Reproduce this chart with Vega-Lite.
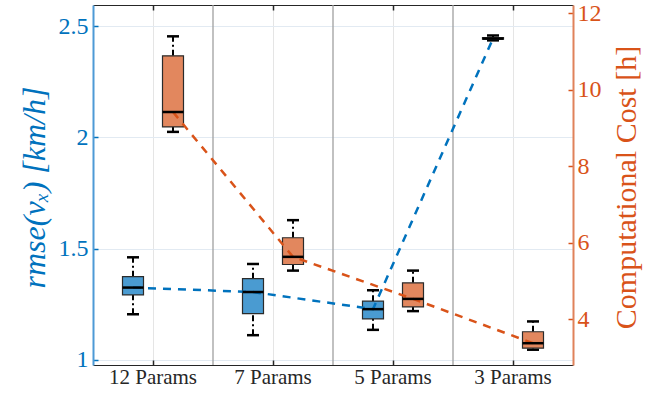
{
  "$schema": "https://vega.github.io/schema/vega-lite/v6.json",
  "width": 480,
  "height": 360,
  "autosize": "none",
  "padding": {"left": 93, "top": 5, "right": 94, "bottom": 31},
  "background": "white",
  "config": {
    "view": {"stroke": null},
    "font": "Liberation Serif, Times New Roman, serif",
    "axis": {"labelFont": "Liberation Serif, Times New Roman, serif", "titleFont": "Liberation Serif, Times New Roman, serif", "titleFontWeight": "normal"}
  },
  "datasets": {
    "boxes": [
      {"cat": "12 Params", "series": "rmse", "lower": 1.205, "q1": 1.292, "median": 1.325, "q3": 1.374, "upper": 1.461},
      {"cat": "7 Params", "series": "rmse", "lower": 1.111, "q1": 1.208, "median": 1.305, "q3": 1.365, "upper": 1.431},
      {"cat": "5 Params", "series": "rmse", "lower": 1.135, "q1": 1.184, "median": 1.228, "q3": 1.264, "upper": 1.313},
      {"cat": "3 Params", "series": "rmse", "lower": 2.436, "q1": 2.441, "median": 2.444, "q3": 2.449, "upper": 2.458},
      {"cat": "12 Params", "series": "cost", "lower": 8.90, "q1": 9.03, "median": 9.42, "q3": 10.89, "upper": 11.40},
      {"cat": "7 Params", "series": "cost", "lower": 5.27, "q1": 5.43, "median": 5.63, "q3": 6.13, "upper": 6.59},
      {"cat": "5 Params", "series": "cost", "lower": 4.21, "q1": 4.32, "median": 4.53, "q3": 4.95, "upper": 5.27},
      {"cat": "3 Params", "series": "cost", "lower": 3.20, "q1": 3.24, "median": 3.37, "q3": 3.67, "upper": 3.94}
    ],
    "seps": [{"cat": "7 Params"}, {"cat": "5 Params"}, {"cat": "3 Params"}]
  },
  "data": {"name": "boxes"},
  "resolve": {"scale": {"y": "independent"}, "axis": {"y": "independent", "x": "independent"}},
  "layer": [
    {
      "data": {"name": "seps"},
      "mark": {"type": "rule", "color": "#a0a0a0", "strokeWidth": 1.3},
      "encoding": {
        "x": {"field": "cat", "type": "nominal", "bandPosition": 0,
              "scale": {"domain": ["12 Params", "7 Params", "5 Params", "3 Params"], "paddingInner": 0, "paddingOuter": 0},
              "axis": null}
      }
    },
    {
      "transform": [{"filter": "datum.series === 'rmse'"}],
      "encoding": {
        "x": {"field": "cat", "type": "nominal",
              "scale": {"domain": ["12 Params", "7 Params", "5 Params", "3 Params"], "paddingInner": 0, "paddingOuter": 0},
              "axis": {"orient": "bottom", "title": null, "labelAngle": 0, "labelFontSize": 21, "labelColor": "#262626", "labelPadding": 6,
                       "domainColor": "#262626", "domainWidth": 1.2, "tickColor": "#262626", "tickSize": -5, "tickWidth": 1.5,
                       "grid": true, "gridColor": "#e5e5e5", "gridWidth": 1, "bandPosition": 0.5}},
        "xOffset": {"field": "series", "type": "nominal", "scale": {"type": "point", "domain": ["rmse", "cost"], "padding": 1.265}}
      },
      "layer": [
        {
          "mark": {"type": "rule", "color": "black", "strokeWidth": 2, "strokeDash": [6, 3, 2, 3]},
          "encoding": {
            "y": {"field": "lower", "type": "quantitative",
                  "scale": {"domain": [0.977, 2.595], "nice": false, "zero": false},
                  "axis": {"orient": "left", "values": [1, 1.5, 2, 2.5], "format": ".2~f",
                           "title": "rmse(vₓ) [km/h]", "titleFontStyle": "italic", "titleFontSize": 32,
                           "titleColor": "#0072BD", "titleAngle": -90, "titleX": -49, "titleY": 182, "titleAlign": "center", "titleBaseline": "alphabetic",
                           "labelFontSize": 24, "labelColor": "#0072BD", "labelPadding": 10,
                           "tickColor": "#0072BD", "tickSize": -5, "tickWidth": 1.5, "domainColor": "#4d9ad6", "domainWidth": 2,
                           "grid": true, "gridColor": "#e2eaf2"}},
            "y2": {"field": "q1"}
          }
        },
        {
          "mark": {"type": "rule", "color": "black", "strokeWidth": 2, "strokeDash": [6, 3, 2, 3]},
          "encoding": {
            "y": {"field": "q3", "type": "quantitative", "scale": {"domain": [0.977, 2.595], "nice": false, "zero": false},
                  "axis": {"orient": "left", "values": [1, 1.5, 2, 2.5], "format": ".2~f",
                           "title": "rmse(vₓ) [km/h]", "titleFontStyle": "italic", "titleFontSize": 32,
                           "titleColor": "#0072BD", "titleAngle": -90, "titleX": -49, "titleY": 182, "titleAlign": "center", "titleBaseline": "alphabetic",
                           "labelFontSize": 24, "labelColor": "#0072BD", "labelPadding": 10,
                           "tickColor": "#0072BD", "tickSize": -5, "tickWidth": 1.5, "domainColor": "#4d9ad6", "domainWidth": 2,
                           "grid": true, "gridColor": "#e2eaf2"}},
            "y2": {"field": "upper"}
          }
        },
        {
          "mark": {"type": "tick", "orient": "horizontal", "color": "black", "size": 12, "thickness": 2.5, "opacity": 1},
          "encoding": {"y": {"field": "lower", "type": "quantitative", "scale": {"domain": [0.977, 2.595], "nice": false, "zero": false},
                  "axis": {"orient": "left", "values": [1, 1.5, 2, 2.5], "format": ".2~f",
                           "title": "rmse(vₓ) [km/h]", "titleFontStyle": "italic", "titleFontSize": 32,
                           "titleColor": "#0072BD", "titleAngle": -90, "titleX": -49, "titleY": 182, "titleAlign": "center", "titleBaseline": "alphabetic",
                           "labelFontSize": 24, "labelColor": "#0072BD", "labelPadding": 10,
                           "tickColor": "#0072BD", "tickSize": -5, "tickWidth": 1.5, "domainColor": "#4d9ad6", "domainWidth": 2,
                           "grid": true, "gridColor": "#e2eaf2"}}}
        },
        {
          "mark": {"type": "tick", "orient": "horizontal", "color": "black", "size": 12, "thickness": 2.5, "opacity": 1},
          "encoding": {"y": {"field": "upper", "type": "quantitative", "scale": {"domain": [0.977, 2.595], "nice": false, "zero": false},
                  "axis": {"orient": "left", "values": [1, 1.5, 2, 2.5], "format": ".2~f",
                           "title": "rmse(vₓ) [km/h]", "titleFontStyle": "italic", "titleFontSize": 32,
                           "titleColor": "#0072BD", "titleAngle": -90, "titleX": -49, "titleY": 182, "titleAlign": "center", "titleBaseline": "alphabetic",
                           "labelFontSize": 24, "labelColor": "#0072BD", "labelPadding": 10,
                           "tickColor": "#0072BD", "tickSize": -5, "tickWidth": 1.5, "domainColor": "#4d9ad6", "domainWidth": 2,
                           "grid": true, "gridColor": "#e2eaf2"}}}
        },
        {
          "mark": {"type": "bar", "width": 21, "fill": "#4a9bd1", "stroke": "#2b2b2b", "strokeWidth": 1.2},
          "encoding": {
            "y": {"field": "q1", "type": "quantitative", "scale": {"domain": [0.977, 2.595], "nice": false, "zero": false},
                  "axis": {"orient": "left", "values": [1, 1.5, 2, 2.5], "format": ".2~f",
                           "title": "rmse(vₓ) [km/h]", "titleFontStyle": "italic", "titleFontSize": 32,
                           "titleColor": "#0072BD", "titleAngle": -90, "titleX": -49, "titleY": 182, "titleAlign": "center", "titleBaseline": "alphabetic",
                           "labelFontSize": 24, "labelColor": "#0072BD", "labelPadding": 10,
                           "tickColor": "#0072BD", "tickSize": -5, "tickWidth": 1.5, "domainColor": "#4d9ad6", "domainWidth": 2,
                           "grid": true, "gridColor": "#e2eaf2"}},
            "y2": {"field": "q3"}
          }
        },
        {
          "mark": {"type": "line", "color": "#0072BD", "strokeWidth": 2.5, "strokeDash": [8, 7]},
          "encoding": {"y": {"field": "median", "type": "quantitative", "scale": {"domain": [0.977, 2.595], "nice": false, "zero": false},
                  "axis": {"orient": "left", "values": [1, 1.5, 2, 2.5], "format": ".2~f",
                           "title": "rmse(vₓ) [km/h]", "titleFontStyle": "italic", "titleFontSize": 32,
                           "titleColor": "#0072BD", "titleAngle": -90, "titleX": -49, "titleY": 182, "titleAlign": "center", "titleBaseline": "alphabetic",
                           "labelFontSize": 24, "labelColor": "#0072BD", "labelPadding": 10,
                           "tickColor": "#0072BD", "tickSize": -5, "tickWidth": 1.5, "domainColor": "#4d9ad6", "domainWidth": 2,
                           "grid": true, "gridColor": "#e2eaf2"}}}
        },
        {
          "mark": {"type": "tick", "orient": "horizontal", "color": "black", "size": 21, "thickness": 2.5, "opacity": 1},
          "encoding": {"y": {"field": "median", "type": "quantitative", "scale": {"domain": [0.977, 2.595], "nice": false, "zero": false},
                  "axis": {"orient": "left", "values": [1, 1.5, 2, 2.5], "format": ".2~f",
                           "title": "rmse(vₓ) [km/h]", "titleFontStyle": "italic", "titleFontSize": 32,
                           "titleColor": "#0072BD", "titleAngle": -90, "titleX": -49, "titleY": 182, "titleAlign": "center", "titleBaseline": "alphabetic",
                           "labelFontSize": 24, "labelColor": "#0072BD", "labelPadding": 10,
                           "tickColor": "#0072BD", "tickSize": -5, "tickWidth": 1.5, "domainColor": "#4d9ad6", "domainWidth": 2,
                           "grid": true, "gridColor": "#e2eaf2"}}}
        }
      ]
    },
    {
      "transform": [{"filter": "datum.series === 'cost'"}],
      "encoding": {
        "x": {"field": "cat", "type": "nominal",
              "scale": {"domain": ["12 Params", "7 Params", "5 Params", "3 Params"], "paddingInner": 0, "paddingOuter": 0},
              "axis": {"orient": "top", "title": null, "labels": false, "domainColor": "#262626", "domainWidth": 1.2,
                       "tickColor": "#262626", "tickSize": -5, "tickWidth": 1.5, "grid": false, "bandPosition": 0.5}},
        "xOffset": {"field": "series", "type": "nominal", "scale": {"type": "point", "domain": ["rmse", "cost"], "padding": 1.265}}
      },
      "layer": [
        {
          "mark": {"type": "rule", "color": "black", "strokeWidth": 2, "strokeDash": [6, 3, 2, 3]},
          "encoding": {
            "y": {"field": "lower", "type": "quantitative", "scale": {"domain": [2.8, 12.22], "nice": false, "zero": false},
                  "axis": {"orient": "right", "values": [4, 6, 8, 10, 12],
                           "title": "Computational Cost [h]", "titleFontSize": 30,
                           "titleColor": "#D95319", "titleAngle": -90, "titleX": 62, "titleY": 182, "titleAlign": "center", "titleBaseline": "alphabetic",
                           "labelFontSize": 24, "labelColor": "#D95319", "labelPadding": 9,
                           "tickColor": "#D95319", "tickSize": -5, "tickWidth": 1.5, "domainColor": "#e0825a", "domainWidth": 2, "grid": false}},
            "y2": {"field": "q1"}
          }
        },
        {
          "mark": {"type": "rule", "color": "black", "strokeWidth": 2, "strokeDash": [6, 3, 2, 3]},
          "encoding": {
            "y": {"field": "q3", "type": "quantitative", "scale": {"domain": [2.8, 12.22], "nice": false, "zero": false},
                  "axis": {"orient": "right", "values": [4, 6, 8, 10, 12],
                           "title": "Computational Cost [h]", "titleFontSize": 30,
                           "titleColor": "#D95319", "titleAngle": -90, "titleX": 62, "titleY": 182, "titleAlign": "center", "titleBaseline": "alphabetic",
                           "labelFontSize": 24, "labelColor": "#D95319", "labelPadding": 9,
                           "tickColor": "#D95319", "tickSize": -5, "tickWidth": 1.5, "domainColor": "#e0825a", "domainWidth": 2, "grid": false}},
            "y2": {"field": "upper"}
          }
        },
        {
          "mark": {"type": "tick", "orient": "horizontal", "color": "black", "size": 12, "thickness": 2.5, "opacity": 1},
          "encoding": {"y": {"field": "lower", "type": "quantitative", "scale": {"domain": [2.8, 12.22], "nice": false, "zero": false},
                  "axis": {"orient": "right", "values": [4, 6, 8, 10, 12],
                           "title": "Computational Cost [h]", "titleFontSize": 30,
                           "titleColor": "#D95319", "titleAngle": -90, "titleX": 62, "titleY": 182, "titleAlign": "center", "titleBaseline": "alphabetic",
                           "labelFontSize": 24, "labelColor": "#D95319", "labelPadding": 9,
                           "tickColor": "#D95319", "tickSize": -5, "tickWidth": 1.5, "domainColor": "#e0825a", "domainWidth": 2, "grid": false}}}
        },
        {
          "mark": {"type": "tick", "orient": "horizontal", "color": "black", "size": 12, "thickness": 2.5, "opacity": 1},
          "encoding": {"y": {"field": "upper", "type": "quantitative", "scale": {"domain": [2.8, 12.22], "nice": false, "zero": false},
                  "axis": {"orient": "right", "values": [4, 6, 8, 10, 12],
                           "title": "Computational Cost [h]", "titleFontSize": 30,
                           "titleColor": "#D95319", "titleAngle": -90, "titleX": 62, "titleY": 182, "titleAlign": "center", "titleBaseline": "alphabetic",
                           "labelFontSize": 24, "labelColor": "#D95319", "labelPadding": 9,
                           "tickColor": "#D95319", "tickSize": -5, "tickWidth": 1.5, "domainColor": "#e0825a", "domainWidth": 2, "grid": false}}}
        },
        {
          "mark": {"type": "bar", "width": 21, "fill": "#e2875e", "stroke": "#2b2b2b", "strokeWidth": 1.2},
          "encoding": {
            "y": {"field": "q1", "type": "quantitative", "scale": {"domain": [2.8, 12.22], "nice": false, "zero": false},
                  "axis": {"orient": "right", "values": [4, 6, 8, 10, 12],
                           "title": "Computational Cost [h]", "titleFontSize": 30,
                           "titleColor": "#D95319", "titleAngle": -90, "titleX": 62, "titleY": 182, "titleAlign": "center", "titleBaseline": "alphabetic",
                           "labelFontSize": 24, "labelColor": "#D95319", "labelPadding": 9,
                           "tickColor": "#D95319", "tickSize": -5, "tickWidth": 1.5, "domainColor": "#e0825a", "domainWidth": 2, "grid": false}},
            "y2": {"field": "q3"}
          }
        },
        {
          "mark": {"type": "line", "color": "#D95319", "strokeWidth": 2.5, "strokeDash": [8, 7]},
          "encoding": {"y": {"field": "median", "type": "quantitative", "scale": {"domain": [2.8, 12.22], "nice": false, "zero": false},
                  "axis": {"orient": "right", "values": [4, 6, 8, 10, 12],
                           "title": "Computational Cost [h]", "titleFontSize": 30,
                           "titleColor": "#D95319", "titleAngle": -90, "titleX": 62, "titleY": 182, "titleAlign": "center", "titleBaseline": "alphabetic",
                           "labelFontSize": 24, "labelColor": "#D95319", "labelPadding": 9,
                           "tickColor": "#D95319", "tickSize": -5, "tickWidth": 1.5, "domainColor": "#e0825a", "domainWidth": 2, "grid": false}}}
        },
        {
          "mark": {"type": "tick", "orient": "horizontal", "color": "black", "size": 21, "thickness": 2.5, "opacity": 1},
          "encoding": {"y": {"field": "median", "type": "quantitative", "scale": {"domain": [2.8, 12.22], "nice": false, "zero": false},
                  "axis": {"orient": "right", "values": [4, 6, 8, 10, 12],
                           "title": "Computational Cost [h]", "titleFontSize": 30,
                           "titleColor": "#D95319", "titleAngle": -90, "titleX": 62, "titleY": 182, "titleAlign": "center", "titleBaseline": "alphabetic",
                           "labelFontSize": 24, "labelColor": "#D95319", "labelPadding": 9,
                           "tickColor": "#D95319", "tickSize": -5, "tickWidth": 1.5, "domainColor": "#e0825a", "domainWidth": 2, "grid": false}}}
        }
      ]
    }
  ]
}
